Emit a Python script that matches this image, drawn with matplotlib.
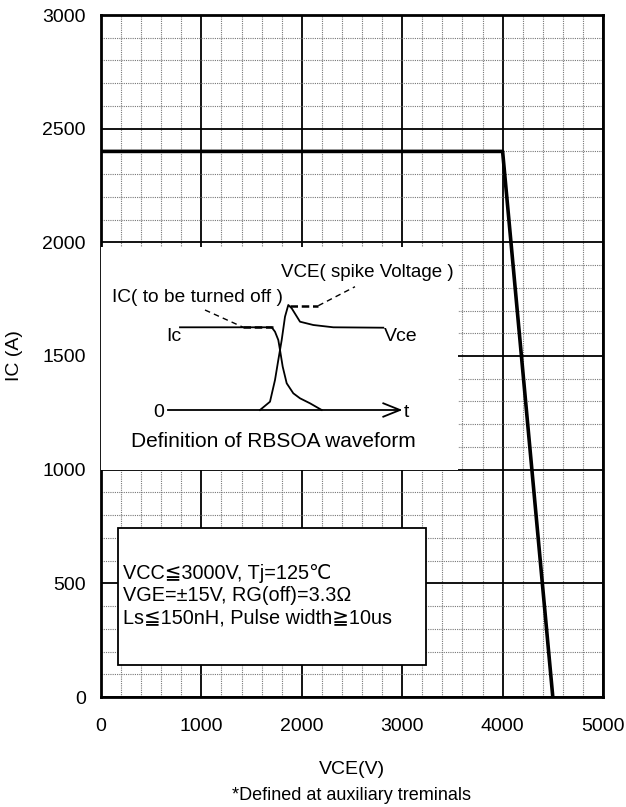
import numpy as np
import matplotlib.pyplot as plt
from matplotlib.ticker import MultipleLocator

plt.rcParams['font.family'] = ['Liberation Sans', 'DejaVu Sans']

# RBSOA limit line
vce_limit = [0, 4000, 4500]
ic_limit = [2400, 2400, 0]

# waveform sketch (schematic units, y grows downward)
ic_wave_x = [180, 271.7, 275, 278.3, 280, 282.7, 286.7, 293.3, 300, 310, 321.7]
ic_wave_y = [327.3, 327.3, 331.7, 340, 350, 366.7, 383.3, 393.3, 398.3, 403.3, 410]
vce_wave_x = [260, 270, 275, 278.3, 281.7, 285, 288.3, 291.7, 300, 313.3, 333.3, 383.3]
vce_wave_y = [410, 401.7, 380, 360, 340, 316.7, 305, 308.3, 321.7, 325, 327.3, 327.7]
base_x = [168.3, 400]
base_y = [410, 410]
arrow_x = [383.3, 400, 383.3]
arrow_y = [403.3, 410, 416.7]
ic_lead_x = [205, 243.3, 275]
ic_lead_y = [310, 327.3, 327.3]
vce_lead_x = [290, 318.3, 355]
vce_lead_y = [305.7, 305.7, 286.7]

W, H = 626, 807
fig = plt.figure(figsize=(W / 100, H / 100), dpi=100)

left, right, top, bottom = 101, 603, 15, 697
ax = fig.add_axes([left / W, 1 - bottom / H, (right - left) / W, (bottom - top) / H])
ax.set_xlim(0, 5000)
ax.set_ylim(0, 3000)
ax.xaxis.set_major_locator(MultipleLocator(1000))
ax.xaxis.set_minor_locator(MultipleLocator(200))
ax.yaxis.set_major_locator(MultipleLocator(500))
ax.yaxis.set_minor_locator(MultipleLocator(100))
ax.grid(which='major', color='black', linewidth=1.3)
ax.grid(which='minor', color='#777777', linewidth=0.8, linestyle=(0, (1, 1)))
ax.set_axisbelow(True)
ax.tick_params(which='both', length=0, labelsize=14)
ax.tick_params(axis='x', pad=15)
ax.tick_params(axis='y', pad=11)
for s in ax.spines.values():
    s.set_linewidth(2)
ax.set_ylabel("IC (A)", fontsize=14, labelpad=14)
ax.set_xlabel("VCE(V)", fontsize=14, labelpad=19)
fig.text(0.5 + 0.5 * (left + right - W) / W, 1 - 796 / H, "*Defined at auxiliary treminals",
         ha='center', va='center', fontsize=13)

ax.plot(vce_limit, ic_limit, color='black', linewidth=2.6, zorder=5)

# conditions box
cond = plt.Rectangle((170, 140), 3070, 605, fc='white', ec='black', lw=1.3, zorder=5)
ax.add_patch(cond)
ax.text(215, 446, "VCC\u22663000V, Tj=125\u2103\nVGE=\u00b115V, RG(off)=3.3\u03a9\nLs\u2266150nH, Pulse width\u226710us",
        fontsize=14.3, va='center', ha='left', linespacing=1.2, zorder=6)

# waveform inset
x0, x1, y0, y1 = 101, 458, 247, 470
ins = fig.add_axes([x0 / W, 1 - y1 / H, (x1 - x0) / W, (y1 - y0) / H])
ins.set_xlim(x0, x1)
ins.set_ylim(y1, y0)
ins.axis('off')
ins.add_patch(plt.Rectangle((x0, y0), x1 - x0, y1 - y0, fc='white', ec='none', zorder=0))
ins.plot(ic_wave_x, ic_wave_y, color='black', lw=1.3)
ins.plot(vce_wave_x, vce_wave_y, color='black', lw=1.3)
ins.plot(base_x, base_y, color='black', lw=1.3)
ins.plot(arrow_x, arrow_y, color='black', lw=1.3)
ins.plot(ic_lead_x[:2], ic_lead_y[:2], color='black', lw=1, ls=(0, (4, 3)))
ins.plot(ic_lead_x[1:], ic_lead_y[1:], color='black', lw=1.8, ls=(0, (3, 1.5)))
ins.plot(vce_lead_x[:2], vce_lead_y[:2], color='black', lw=1.8, ls=(0, (3, 1.5)))
ins.plot(vce_lead_x[1:], vce_lead_y[1:], color='black', lw=1, ls=(0, (4, 3)))
ins.text(281, 273, "VCE( spike Voltage )", fontsize=13.5, va='center', ha='left')
ins.text(112, 298, "IC( to be turned off )", fontsize=13.8, va='center', ha='left')
ins.text(181, 337, "Ic", fontsize=14, va='center', ha='right')
ins.text(384, 337, "Vce", fontsize=14, va='center', ha='left')
ins.text(159, 413, "0", fontsize=14, va='center', ha='center')
ins.text(404, 413, "t", fontsize=14, va='center', ha='left')
ins.text(273, 442, "Definition of RBSOA waveform", fontsize=15, va='center', ha='center')

fig.savefig("out.png", dpi=100)
